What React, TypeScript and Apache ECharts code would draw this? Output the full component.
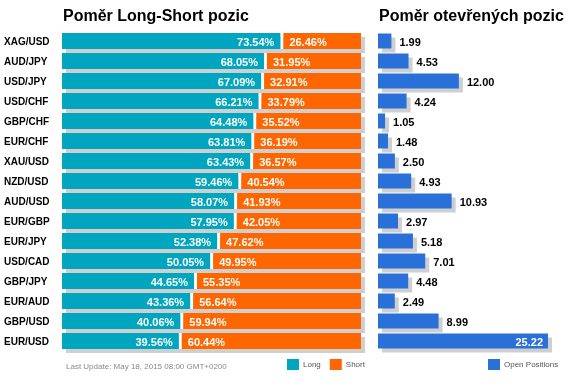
import React, { useEffect, useRef } from "react";
import * as echarts from "echarts";

const categories = ["XAG/USD","AUD/JPY","USD/JPY","USD/CHF","GBP/CHF","EUR/CHF","XAU/USD","NZD/USD","AUD/USD","EUR/GBP","EUR/JPY","USD/CAD","GBP/JPY","EUR/AUD","GBP/USD","EUR/USD"];
const longPct = [73.54,68.05,67.09,66.21,64.48,63.81,63.43,59.46,58.07,57.95,52.38,50.05,44.65,43.36,40.06,39.56];
const shortPct = [26.46,31.95,32.91,33.79,35.52,36.19,36.57,40.54,41.93,42.05,47.62,49.95,55.35,56.64,59.94,60.44];
const openPos = [1.99,4.53,12.00,4.24,1.05,1.48,2.50,4.93,10.93,2.97,5.18,7.01,4.48,2.49,8.99,25.22];

const TEAL = "#00a6bf";
const ORANGE = "#ff6600";
const BLUE = "#2a70d9";
const SHADOW = "#cfcfcf";
const FONT = '"Liberation Sans", Arial, sans-serif';
const GAP = 1.5;
const SH = 4;

export default function App() {
  const ref = useRef<HTMLDivElement>(null);
  useEffect(() => {
    const chart = echarts.init(ref.current!, null, { renderer: "svg" });
    const lsData = categories.map((_, i) => [longPct[i], i, shortPct[i]]);
    const openData = categories.map((_, i) => [openPos[i], i]);
    const openMax = Math.max(...openPos);

    const longRender = (params: any, api: any) => {
      const v = api.value(0);
      const idx = api.value(1);
      const s = api.value(2);
      const p0 = api.coord([0, idx]);
      const pm = api.coord([v, idx]);
      const pe = api.coord([v + s, idx]);
      const h = api.size([0, 1])[1] * 0.8;
      const y = p0[1] - h / 2;
      return {
        type: "group",
        children: [
          { type: "rect", shape: { x: p0[0] + SH, y: y + SH, width: pe[0] - p0[0], height: h }, style: { fill: SHADOW } },
          { type: "rect", shape: { x: pm[0] - GAP, y, width: GAP * 2, height: h }, style: { fill: "#fff" } },
          { type: "rect", shape: { x: p0[0], y, width: pm[0] - GAP - p0[0], height: h }, style: { fill: TEAL } },
          {
            type: "text", x: pm[0] - GAP - 6, y: p0[1] + 0.5,
            style: { text: v.toFixed(2) + "%", fill: "#fff", fontSize: 11, fontWeight: "bold", fontFamily: FONT, align: "right", verticalAlign: "middle" },
          },
        ],
      };
    };
    const shortRender = (params: any, api: any) => {
      const v = api.value(0);
      const idx = api.value(1);
      const s = api.value(2);
      const pm = api.coord([v, idx]);
      const pe = api.coord([v + s, idx]);
      const h = api.size([0, 1])[1] * 0.8;
      const y = pm[1] - h / 2;
      return {
        type: "group",
        children: [
          { type: "rect", shape: { x: pm[0] + GAP, y, width: pe[0] - pm[0] - GAP, height: h }, style: { fill: ORANGE } },
          {
            type: "text", x: pm[0] + GAP + 6, y: pm[1] + 0.5,
            style: { text: s.toFixed(2) + "%", fill: "#fff", fontSize: 11, fontWeight: "bold", fontFamily: FONT, align: "left", verticalAlign: "middle" },
          },
        ],
      };
    };
    const openRender = (params: any, api: any) => {
      const v = api.value(0);
      const idx = api.value(1);
      const p0 = api.coord([0, idx]);
      const pe = api.coord([v, idx]);
      const h = api.size([0, 1])[1] * 0.75;
      const y = p0[1] - h / 2;
      const inside = v / openMax > 0.8;
      return {
        type: "group",
        children: [
          { type: "rect", shape: { x: p0[0] + SH, y: y + SH, width: pe[0] - p0[0], height: h }, style: { fill: SHADOW } },
          { type: "rect", shape: { x: p0[0], y, width: pe[0] - p0[0], height: h }, style: { fill: BLUE } },
          {
            type: "text", x: inside ? pe[0] - 5 : pe[0] + 8, y: p0[1] + 0.5,
            style: { text: v.toFixed(2), fill: inside ? "#fff" : "#000", fontSize: 11, fontWeight: "bold", fontFamily: FONT, align: inside ? "right" : "left", verticalAlign: "middle" },
          },
        ],
      };
    };

    chart.setOption({
      animation: false,
      textStyle: { fontFamily: FONT },
      title: [
        { text: "Poměr Long-Short pozic", left: 63, top: 7, padding: 0, textStyle: { fontSize: 16, fontWeight: "bold", color: "#000", fontFamily: FONT } },
        { text: "Poměr otevřených pozic", left: 379, top: 7, padding: 0, textStyle: { fontSize: 16, fontWeight: "bold", color: "#000", fontFamily: FONT } },
      ],
      legend: [
        {
          data: ["Long", "Short"], left: 287, top: 359, padding: 0, itemWidth: 12, itemHeight: 11, itemGap: 9,
          icon: "rect", selectedMode: false, textStyle: { fontSize: 8, color: "#555", fontFamily: FONT, padding: [0, 0, 0, -1] },
        },
        {
          data: ["Open Positions"], left: 488, top: 359, padding: 0, itemWidth: 12, itemHeight: 11,
          icon: "rect", selectedMode: false, textStyle: { fontSize: 8, color: "#555", fontFamily: FONT, padding: [0, 0, 0, -1] },
        },
      ],
      graphic: [
        {
          type: "text", left: 66, top: 362,
          style: { text: "Last Update: May 18, 2015 08:00 GMT+0200", fill: "#888", fontSize: 8, fontFamily: FONT },
        },
      ],
      grid: [
        { left: 62, top: 31, width: 299, height: 320 },
        { left: 378, top: 31, width: 170, height: 320 },
      ],
      xAxis: [
        { type: "value", gridIndex: 0, min: 0, max: 100, show: false },
        { type: "value", gridIndex: 1, min: 0, max: openMax, show: false },
      ],
      yAxis: [
        {
          type: "category", gridIndex: 0, data: categories, inverse: true,
          axisLine: { show: false }, axisTick: { show: false }, splitLine: { show: false },
          axisLabel: { align: "left", margin: 58, fontSize: 10, fontWeight: "bold", color: "#000", fontFamily: FONT },
        },
        {
          type: "category", gridIndex: 1, data: categories, inverse: true, show: false,
        },
      ],
      series: [
        { name: "Long", type: "custom", xAxisIndex: 0, yAxisIndex: 0, data: lsData, encode: { x: 0, y: 1 }, renderItem: longRender, itemStyle: { color: TEAL }, clip: false },
        { name: "Short", type: "custom", xAxisIndex: 0, yAxisIndex: 0, data: lsData, encode: { x: 0, y: 1 }, renderItem: shortRender, itemStyle: { color: ORANGE }, clip: false },
        { name: "Open Positions", type: "custom", xAxisIndex: 1, yAxisIndex: 1, data: openData, encode: { x: 0, y: 1 }, renderItem: openRender, itemStyle: { color: BLUE }, clip: false },
      ],
    });
    return () => chart.dispose();
  }, []);
  return <div ref={ref} style={{ position: "fixed", left: 0, top: 0, width: 571, height: 392 }} />;
}
